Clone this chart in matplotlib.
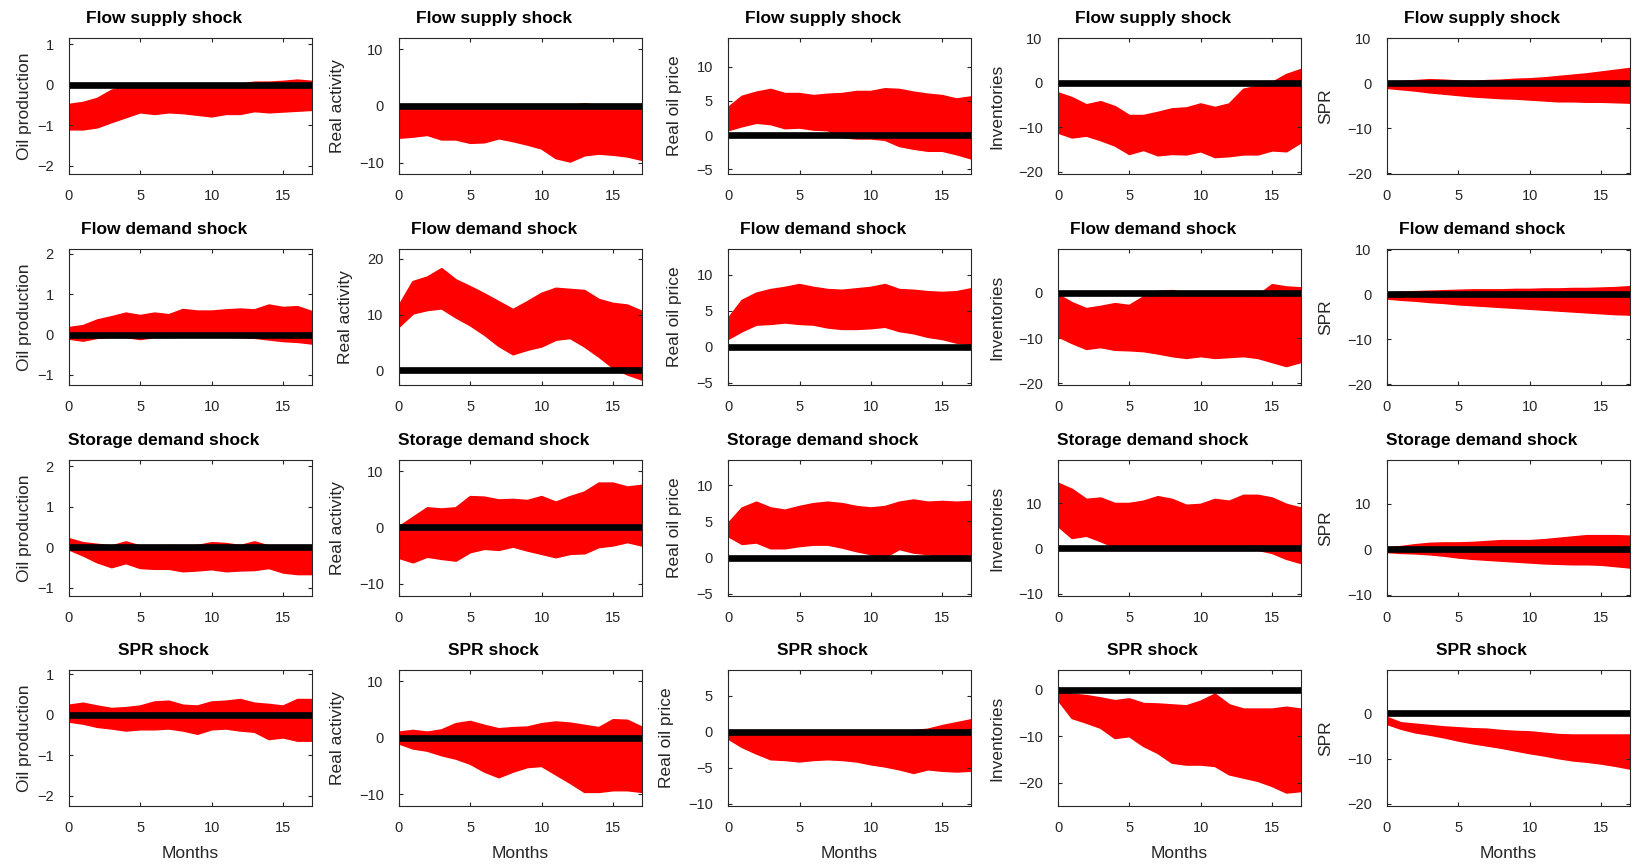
import matplotlib
matplotlib.use('Agg')
import matplotlib.pyplot as plt
from matplotlib.ticker import MultipleLocator

plt.rcParams['font.family'] = ['Liberation Sans', 'DejaVu Sans']

months = list(range(18))
shocks = ['Flow supply shock', 'Flow demand shock', 'Storage demand shock', 'SPR shock']
variables = ['Oil production', 'Real activity', 'Real oil price', 'Inventories', 'SPR']

# flow supply shock: upper / lower edge of the set of responses
fs_prod_hi = [-0.5, -0.45, -0.35, -0.15, -0.05, -0.02, -0.02, 0, 0, 0, 0, 0, 0, 0.05, 0.05, 0.07, 0.1, 0.07]
fs_prod_lo = [-1.1, -1.1, -1.05, -0.92, -0.8, -0.68, -0.72, -0.68, -0.7, -0.74, -0.78, -0.72, -0.72, -0.65, -0.68, -0.66, -0.64, -0.62]
fs_act_hi = [-0.5, -0.3, -0.2, -0.2, -0.2, -0.2, -0.2, -0.2, -0.2, -0.1, -0.1, -0.1, 0, 0.3, 0, -0.1, -0.1, -0.2]
fs_act_lo = [-5.6, -5.4, -5.1, -5.9, -5.9, -6.5, -6.4, -5.7, -6.2, -6.8, -7.5, -9.2, -9.8, -8.7, -8.4, -8.6, -8.9, -9.5]
fs_price_hi = [3.9, 5.6, 6.2, 6.6, 6.0, 6.0, 5.7, 5.9, 6.0, 6.3, 6.3, 6.7, 6.6, 6.2, 5.9, 5.7, 5.2, 5.5]
fs_price_lo = [0.7, 1.3, 1.8, 1.6, 1.0, 1.1, 0.8, 0.7, -0.3, -0.5, -0.5, -0.7, -1.6, -2.0, -2.3, -2.3, -2.8, -3.4]
fs_inv_hi = [-2.4, -3.5, -5.1, -4.4, -5.5, -7.5, -7.5, -6.8, -6.0, -5.8, -4.9, -5.7, -4.9, -1.6, -0.9, -0.1, 1.7, 2.8]
fs_inv_lo = [-11.2, -12.3, -11.9, -12.9, -14.1, -16.0, -15.1, -16.3, -16.0, -16.1, -15.4, -16.7, -16.5, -16.1, -16.1, -15.2, -15.4, -13.4]
fs_spr_hi = [0.2, 0.3, 0.5, 0.7, 0.6, 0.4, 0.3, 0.5, 0.6, 0.8, 0.9, 1.1, 1.4, 1.7, 2.0, 2.4, 2.8, 3.2]
fs_spr_lo = [-1.0, -1.3, -1.6, -2.0, -2.3, -2.6, -2.9, -3.1, -3.3, -3.4, -3.6, -3.8, -4.0, -4.0, -4.1, -4.1, -4.2, -4.3]

# flow demand shock
fd_prod_hi = [0.16, 0.21, 0.35, 0.43, 0.52, 0.46, 0.52, 0.48, 0.61, 0.57, 0.57, 0.6, 0.62, 0.6, 0.72, 0.66, 0.68, 0.56]
fd_prod_lo = [-0.1, -0.15, -0.08, -0.06, -0.06, -0.11, -0.06, -0.06, -0.05, -0.05, -0.05, -0.05, -0.06, -0.08, -0.12, -0.16, -0.18, -0.22]
fd_act_hi = [11.4, 15.8, 16.6, 18.1, 16.1, 14.9, 13.6, 12.2, 10.8, 12.2, 13.7, 14.6, 14.4, 14.2, 12.6, 11.9, 11.6, 10.5]
fd_act_lo = [7.8, 10.2, 10.8, 11.1, 9.5, 8.1, 6.4, 4.4, 2.9, 3.7, 4.3, 5.5, 5.8, 4.3, 2.5, 0.5, -0.7, -1.6]
fd_price_hi = [3.8, 6.4, 7.4, 7.9, 8.2, 8.6, 8.2, 7.9, 7.8, 8.0, 8.2, 8.6, 7.9, 7.8, 7.6, 7.5, 7.6, 8.0]
fd_price_lo = [1.1, 2.2, 3.1, 3.2, 3.4, 3.2, 3.1, 2.7, 2.5, 2.5, 2.6, 2.8, 2.2, 1.9, 1.4, 1.1, 0.6, 0.4]
fd_inv_hi = [-0.5, -2.3, -3.6, -3.1, -2.5, -2.9, -1.0, 0.2, 0.4, -0.1, -0.5, -0.5, -0.7, -1.0, -0.7, 1.7, 1.2, 1.0]
fd_inv_lo = [-9.6, -11.1, -12.4, -12.0, -12.6, -12.7, -12.9, -13.4, -14.0, -14.4, -14.0, -14.4, -14.2, -14.0, -14.4, -15.3, -16.2, -15.3]
fd_spr_hi = [0.2, 0.4, 0.5, 0.6, 0.7, 0.8, 0.9, 0.9, 0.9, 1.0, 1.0, 1.1, 1.1, 1.2, 1.2, 1.3, 1.4, 1.6]
fd_spr_lo = [-0.9, -1.2, -1.4, -1.7, -1.9, -2.2, -2.4, -2.6, -2.8, -3.0, -3.2, -3.4, -3.6, -3.8, -4.0, -4.2, -4.4, -4.5]

# storage demand shock
sd_prod_hi = [0.2, 0.1, 0.06, 0.02, 0.12, 0.02, 0.02, 0.03, 0.02, 0.03, 0.1, 0.08, 0.03, 0.12, 0.02, 0.02, 0.0, 0.0]
sd_prod_lo = [-0.05, -0.2, -0.37, -0.49, -0.39, -0.51, -0.53, -0.53, -0.59, -0.57, -0.54, -0.59, -0.57, -0.56, -0.51, -0.62, -0.66, -0.66]
sd_act_hi = [0.0, 1.7, 3.4, 3.2, 3.4, 5.4, 5.3, 4.8, 4.9, 4.7, 5.4, 4.4, 5.4, 6.2, 7.8, 7.8, 7.1, 7.4]
sd_act_lo = [-5.4, -6.2, -5.2, -5.6, -5.9, -4.4, -3.8, -4.0, -3.4, -4.1, -4.7, -5.3, -4.7, -4.6, -3.5, -3.2, -2.6, -3.2]
sd_price_hi = [4.6, 6.8, 7.6, 6.8, 6.5, 7.0, 7.4, 7.6, 7.4, 7.0, 6.8, 7.0, 7.6, 7.9, 7.6, 7.7, 7.6, 7.7]
sd_price_lo = [3.0, 1.9, 2.1, 1.3, 1.3, 1.6, 1.8, 1.8, 1.4, 0.9, 0.5, 0.1, 1.2, 0.7, 0.5, 0.2, 0.1, 0.5]
sd_inv_hi = [14.3, 12.9, 10.7, 11.0, 9.8, 9.8, 10.3, 11.3, 10.7, 9.4, 9.6, 10.7, 10.3, 11.6, 11.6, 11.0, 9.6, 8.8]
sd_inv_lo = [5.0, 2.3, 2.8, 1.6, 0.3, -0.2, -0.2, -0.2, -0.2, -0.2, -0.2, -0.2, -0.2, -0.3, -0.3, -1.0, -2.3, -3.2]
sd_spr_hi = [0.2, 0.5, 0.9, 1.2, 1.3, 1.3, 1.4, 1.6, 1.8, 1.8, 1.8, 2.0, 2.3, 2.6, 2.9, 2.9, 2.9, 2.8]
sd_spr_lo = [-0.6, -0.8, -0.9, -1.1, -1.4, -1.8, -2.1, -2.3, -2.5, -2.7, -2.9, -3.1, -3.2, -3.3, -3.3, -3.4, -3.7, -4.0]

# SPR shock
spr_prod_hi = [0.22, 0.27, 0.2, 0.14, 0.16, 0.2, 0.3, 0.32, 0.22, 0.2, 0.3, 0.32, 0.36, 0.27, 0.24, 0.2, 0.36, 0.36]
spr_prod_lo = [-0.17, -0.22, -0.3, -0.34, -0.39, -0.36, -0.36, -0.34, -0.39, -0.47, -0.36, -0.34, -0.39, -0.42, -0.6, -0.56, -0.64, -0.64]
spr_act_hi = [0.9, 1.2, 0.9, 1.3, 2.4, 2.8, 2.1, 1.5, 1.7, 1.8, 2.4, 2.7, 2.5, 2.1, 1.7, 3.1, 3.0, 1.8]
spr_act_lo = [-1.0, -1.9, -2.3, -3.1, -3.7, -4.6, -6.0, -7.0, -6.0, -5.2, -5.0, -6.5, -8.0, -9.6, -9.6, -9.3, -9.3, -9.6]
spr_price_hi = [-0.3, -0.1, 0, 0, 0, 0, 0, 0, 0, 0, 0, 0, 0, 0.1, 0.3, 0.8, 1.2, 1.6]
spr_price_lo = [-0.9, -2.1, -3.0, -3.8, -3.9, -4.1, -3.9, -3.8, -3.9, -4.1, -4.5, -4.8, -5.2, -5.7, -5.2, -5.4, -5.5, -5.4]
spr_inv_hi = [0.3, -1.1, -1.4, -1.9, -2.5, -2.1, -3.1, -3.2, -3.4, -3.6, -2.6, -1.1, -3.4, -4.3, -4.3, -4.3, -3.9, -4.3]
spr_inv_lo = [-2.1, -6.1, -7.1, -8.2, -10.4, -10.0, -12.1, -13.6, -15.7, -16.1, -16.1, -16.4, -18.2, -18.9, -19.6, -20.7, -22.1, -21.8]
spr_spr_hi = [-1.0, -2.2, -2.5, -2.8, -3.1, -3.3, -3.5, -3.6, -3.9, -4.1, -4.2, -4.5, -4.8, -4.9, -4.9, -4.9, -4.9, -4.9]
spr_spr_lo = [-2.3, -3.4, -4.2, -4.7, -5.3, -6.0, -6.6, -7.1, -7.6, -8.2, -8.8, -9.3, -9.9, -10.4, -10.7, -11.1, -11.6, -12.2]

bands = [
    [(fs_prod_lo, fs_prod_hi), (fs_act_lo, fs_act_hi), (fs_price_lo, fs_price_hi), (fs_inv_lo, fs_inv_hi), (fs_spr_lo, fs_spr_hi)],
    [(fd_prod_lo, fd_prod_hi), (fd_act_lo, fd_act_hi), (fd_price_lo, fd_price_hi), (fd_inv_lo, fd_inv_hi), (fd_spr_lo, fd_spr_hi)],
    [(sd_prod_lo, sd_prod_hi), (sd_act_lo, sd_act_hi), (sd_price_lo, sd_price_hi), (sd_inv_lo, sd_inv_hi), (sd_spr_lo, sd_spr_hi)],
    [(spr_prod_lo, spr_prod_hi), (spr_act_lo, spr_act_hi), (spr_price_lo, spr_price_hi), (spr_inv_lo, spr_inv_hi), (spr_spr_lo, spr_spr_hi)],
]

ylims = [
    [(-2.2, 1.15), (-12, 12), (-5.7, 14.2), (-20.5, 10), (-20.2, 10.1)],
    [(-1.25, 2.12), (-2.6, 21.7), (-5.3, 13.6), (-20.4, 9.7), (-20.2, 10.1)],
    [(-1.2, 2.15), (-12.2, 12), (-5.3, 13.5), (-10.5, 19.5), (-10.3, 19.7)],
    [(-2.25, 1.1), (-12.1, 12), (-10.3, 8.6), (-25, 4.2), (-20.5, 9.6)],
]
steps = [1, 10, 5, 10, 10]

lefts = [0.0422, 0.2440, 0.4453, 0.6471, 0.8483]
bottoms = [0.7991, 0.5554, 0.3118, 0.0693]
w, h = 0.1486, 0.157
ink = '#262626'

fig = plt.figure(figsize=(16.35, 8.66), dpi=100)

for i in range(4):
    for j in range(5):
        ax = fig.add_axes([lefts[j], bottoms[i], w, h])
        lo, hi = bands[i][j]
        ax.fill_between(months, lo, hi, color='red', lw=0)
        ax.plot(months, hi, color='red', lw=1.8)
        ax.plot(months, lo, color='red', lw=1.8)
        ax.axhline(0, color='black', lw=4.8)

        ax.set_xlim(0, 17)
        ax.set_ylim(*ylims[i][j])
        ax.xaxis.set_major_locator(MultipleLocator(5))
        ax.yaxis.set_major_locator(MultipleLocator(steps[j]))
        ax.tick_params(direction='in', top=True, right=True, length=3, width=0.8,
                       pad=11, labelsize=10.5, colors=ink)
        for sp in ax.spines.values():
            sp.set_color(ink)
            sp.set_linewidth(0.8)

        ax.set_title(shocks[i], fontsize=12.5, fontweight='bold', pad=11, x=0.39)
        # first column sits closer to its tick labels in the original
        ax.set_ylabel(variables[j], fontsize=12.5, labelpad=4 if j == 0 else 10, color=ink)
        if i == 3:
            ax.set_xlabel('Months', fontsize=12.5, labelpad=8, color=ink)

fig.savefig('out.png', dpi=100)
